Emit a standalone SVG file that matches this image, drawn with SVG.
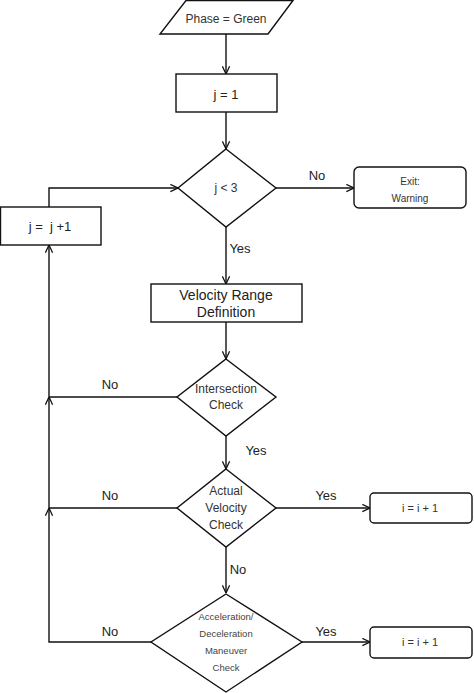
<svg xmlns="http://www.w3.org/2000/svg" width="474" height="693" viewBox="0 0 474 693">
<style>
.shape{fill:#fff;stroke:#111;stroke-width:1.4}
.conn{fill:none;stroke:#111;stroke-width:1.4}
text{font-family:"Liberation Sans",Arial,sans-serif;text-anchor:middle;fill:#222}
.t12{font-size:12px;fill:#333}
.t13{font-size:13px;fill:#222}
.t14{font-size:14px;fill:#222}
.t10{font-size:10px;fill:#333}
.t11{font-size:11px;fill:#333}
.t9{font-size:9.5px;fill:#444}
.lbl{font-size:13px;fill:#222}
</style>
<defs>
<marker id="arr" viewBox="0 0 10 10" markerUnits="userSpaceOnUse" markerWidth="9" markerHeight="9" refX="9.5" refY="5" orient="auto">
<path d="M1,1 L9.5,5 L1,9" fill="none" stroke="#111" stroke-width="1.4"/>
</marker>
</defs>
<rect width="474" height="693" fill="#fff"/>
<g id="connectors">
<path class="conn" d="M226,34 V74" marker-end="url(#arr)"/>
<path class="conn" d="M226,112 V149" marker-end="url(#arr)"/>
<path class="conn" d="M276,188 H354" marker-end="url(#arr)"/>
<path class="conn" d="M226,227 V284" marker-end="url(#arr)"/>
<path class="conn" d="M226,322 V359" marker-end="url(#arr)"/>
<path class="conn" d="M226,436 V469" marker-end="url(#arr)"/>
<path class="conn" d="M177,397 H49 V245" marker-end="url(#arr)"/>
<path class="conn" d="M177,508 H49 V397" marker-end="url(#arr)"/>
<path class="conn" d="M151,642 H49 V508" marker-end="url(#arr)"/>
<path class="conn" d="M276,508 H370" marker-end="url(#arr)"/>
<path class="conn" d="M226,547 V593" marker-end="url(#arr)"/>
<path class="conn" d="M302,642 H370" marker-end="url(#arr)"/>
<path class="conn" d="M49,207 V188 H178" marker-end="url(#arr)"/>
<text class="lbl" x="317" y="180">No</text>
<text class="lbl" x="240" y="253">Yes</text>
<text class="lbl" x="110" y="389">No</text>
<text class="lbl" x="256" y="455">Yes</text>
<text class="lbl" x="110" y="500">No</text>
<text class="lbl" x="326" y="500">Yes</text>
<text class="lbl" x="238" y="574">No</text>
<text class="lbl" x="110" y="636">No</text>
<text class="lbl" x="326" y="636">Yes</text>
</g>
<g id="phase">
<polygon class="shape" points="186,0.5 293,0.5 268,34 160,34"/>
<text class="t12" x="226" y="23">Phase = Green</text>
</g>
<g id="j1">
<rect class="shape" x="176" y="74" width="101" height="38"/>
<text class="t13" x="226" y="99">j = 1</text>
</g>
<g id="jlt3">
<polygon class="shape" points="226,149 276,188 226,227 178,188"/>
<text class="t12" x="226" y="192">j &lt; 3</text>
</g>
<g id="exit">
<rect class="shape" x="354" y="167" width="112" height="41" rx="5"/>
<text class="t10" x="410" y="185">Exit:</text>
<text class="t10" x="410" y="202">Warning</text>
</g>
<g id="jinc">
<rect class="shape" x="0.5" y="207" width="100.5" height="38"/>
<text class="t13" x="50" y="231" xml:space="preserve">j =  j +1</text>
</g>
<g id="velrange">
<rect class="shape" x="151" y="284" width="151" height="38"/>
<text class="t14" x="226" y="300">Velocity Range</text>
<text class="t14" x="226" y="317">Definition</text>
</g>
<g id="intersection">
<polygon class="shape" points="226,359 276,397 226,436 177,397"/>
<text class="t12" x="226" y="393">Intersection</text>
<text class="t12" x="226" y="409">Check</text>
</g>
<g id="actual">
<polygon class="shape" points="226,469 276,508 226,547 177,508"/>
<text class="t12" x="226" y="495">Actual</text>
<text class="t12" x="226" y="512">Velocity</text>
<text class="t12" x="226" y="529">Check</text>
</g>
<g id="inc1">
<rect class="shape" x="370" y="493" width="102" height="30" rx="4"/>
<text class="t11" x="420" y="512">i = i + 1</text>
</g>
<g id="accel">
<polygon class="shape" points="226,594 302,642 226,692 151,642"/>
<text class="t9" x="226" y="620">Acceleration/</text>
<text class="t9" x="226" y="637">Deceleration</text>
<text class="t9" x="226" y="654">Maneuver</text>
<text class="t9" x="226" y="671">Check</text>
</g>
<g id="inc2">
<rect class="shape" x="370" y="627" width="102" height="31" rx="4"/>
<text class="t11" x="420" y="646">i = i + 1</text>
</g>
</svg>
